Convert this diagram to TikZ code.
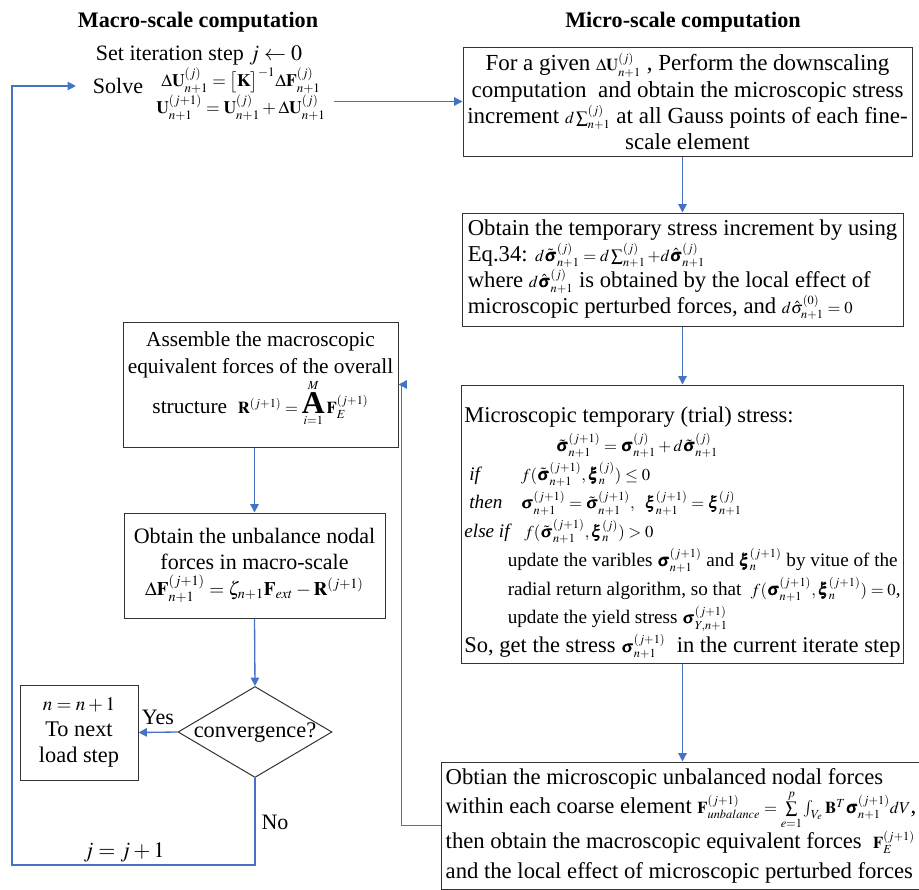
\documentclass[tikz,border=0pt]{standalone}
\usepackage{amsmath}
\usepackage{mathptmx}
\usepackage{bm}
\usepackage{fontspec}
\setmainfont{Liberation Serif}
\usetikzlibrary{shapes.geometric,arrows.meta}
\definecolor{flowblue}{HTML}{4472C4}
\newcommand{\eqsm}[1]{{\fontsize{10}{12}\selectfont$#1$}}
\begin{document}
\begin{tikzpicture}[x=0.6pt, y=-0.6pt,
	box/.style={draw=black!80, line width=0.6pt, text=black, shape=rectangle, inner sep=1.5pt, font=\fontsize{13.4}{15.6}\selectfont},
	lbl/.style={text=black, inner sep=1pt, font=\fontsize{13.2}{15}\selectfont},
	flow/.style={draw=flowblue, line width=0.8pt, -{Triangle[length=5pt,width=5pt]}}]

	\useasboundingbox (0,0) rectangle (919,890);

	% headings
	\node[lbl, font=\fontsize{13.3}{15}\selectfont\bfseries] (h_macro) at (198,22) {Macro-scale computation};
	\node[lbl, font=\fontsize{13.3}{15}\selectfont\bfseries] (h_micro) at (683,22) {Micro-scale computation};

	% macro-scale start
	\node[lbl] (m_init) at (199,55) {Set iteration step $j\leftarrow 0$};
	\node[lbl] (m_solve) at (118,86) {Solve};
	\node[lbl, align=center, font=\fontsize{10.5}{11}\selectfont] (m_eq) at (241,94) {$\Delta\mathbf{U}^{(j)}_{n+1} = \bigl[\mathbf{K}\bigr]^{-1}\Delta\mathbf{F}^{(j)}_{n+1}$\\$\mathbf{U}^{(j+1)}_{n+1} = \mathbf{U}^{(j)}_{n+1} + \Delta\mathbf{U}^{(j)}_{n+1}$};

	% micro-scale boxes
	\node[box, align=center, font=\fontsize{13.8}{15.8}\selectfont, minimum width=269.4pt, minimum height=65.4pt] (mic_1) at (687.5,101.5) {For a given \eqsm{\Delta\mathbf{U}^{(j)}_{n+1}} , Perform the downscaling\\computation\ \ and obtain the microscopic stress\\increment \eqsm{d\sum\nolimits^{(j)}_{n+1}} at all Gauss points of each fine-\\scale element};
	\node[box, align=left, font=\fontsize{13.6}{15.6}\selectfont, minimum width=264.6pt, minimum height=67.8pt] (mic_2) at (682.5,269.5) {Obtain the temporary stress increment by using\\Eq.34: \eqsm{d\tilde{\bm\sigma}^{(j)}_{n+1} = d\sum\nolimits^{(j)}_{n+1} + d\hat{\bm\sigma}^{(j)}_{n+1}}\\where \eqsm{d\hat{\bm\sigma}^{(j)}_{n+1}} is obtained by the local effect of\\microscopic perturbed forces, and \eqsm{d\hat{\sigma}^{(0)}_{n+1} = 0}};
	\node[box, align=left, font=\fontsize{11.5}{17.25}\selectfont, minimum width=264.6pt, minimum height=166.8pt] (mic_3) at (682.5,524) {%
		\rule{0pt}{20pt}{\fontsize{13.5}{17.25}\selectfont Microscopic temporary (trial) stress:}\\
		\hspace*{55pt}\eqsm{\tilde{\bm\sigma}^{(j+1)}_{n+1} = \bm\sigma^{(j)}_{n+1} + d\tilde{\bm\sigma}^{(j)}_{n+1}}\\
		\hspace*{3pt}\makebox[31pt][l]{\textit{if}}\eqsm{f(\tilde{\bm\sigma}^{(j+1)}_{n+1},\bm\xi^{(j)}_{n})\le 0}\\
		\hspace*{3pt}\makebox[31pt][l]{\textit{then}}\eqsm{\bm\sigma^{(j+1)}_{n+1} = \tilde{\bm\sigma}^{(j+1)}_{n+1},\ \ \bm\xi^{(j+1)}_{n+1} = \bm\xi^{(j)}_{n+1}}\\
		\makebox[36pt][l]{\textit{else if}}\eqsm{f(\tilde{\bm\sigma}^{(j+1)}_{n+1},\bm\xi^{(j)}_{n}) > 0}\\
		\hspace*{26pt}update the varibles \eqsm{\bm\sigma^{(j+1)}_{n+1}} and \eqsm{\bm\xi^{(j+1)}_{n}} by vitue of the\\
		\hspace*{26pt}radial return algorithm, so that\ \ \eqsm{f(\bm\sigma^{(j+1)}_{n+1},\bm\xi^{(j+1)}_{n}) = 0},\\
		\hspace*{26pt}update the yield stress \eqsm{\bm\sigma^{(j+1)}_{Y,n+1}}\\
		\makebox[258pt][l]{\fontsize{13.5}{17.25}\selectfont So, get the stress\ \eqsm{\bm\sigma^{(j+1)}_{n+1}}\ \ in the current iterate step}};
	\node[box, align=left, inner sep=2.4pt, font=\fontsize{13.6}{17.5}\selectfont, minimum width=284.4pt, minimum height=76.2pt] (mic_4) at (681,825.5) {Obtian the microscopic unbalanced nodal forces\\within each coarse element \eqsm{\mathbf{F}^{(j+1)}_{unbalance} = \sum\limits_{e=1}^{p}\int_{V_e}\mathbf{B}^{T}\bm\sigma^{(j+1)}_{n+1}dV},\\then obtain the macroscopic equivalent forces\ \ \eqsm{\mathbf{F}^{(j+1)}_{E}}\\and the local effect of microscopic perturbed forces};

	% macro-scale boxes
	\node[box, align=center, font=\fontsize{12.8}{16}\selectfont, minimum width=165pt, minimum height=75pt] (mac_1) at (260.5,384.5) {Assemble the macroscopic\\equivalent forces of the overall\\structure\ \ \eqsm{\mathbf{R}^{(j+1)} = \mathop{\text{\fontsize{19}{19}\selectfont\bfseries A}}\limits_{i=1}^{M}\mathbf{F}^{(j+1)}_{E}}\rule[-14pt]{0pt}{0pt}};
	\node[box, align=center, font=\fontsize{13.2}{15.6}\selectfont, minimum width=156.6pt, minimum height=63pt] (mac_2) at (254.5,565.5) {Obtain the unbalance nodal\\forces in macro-scale\\{\fontsize{11.5}{14}\selectfont$\Delta\mathbf{F}^{(j+1)}_{n+1} = \zeta_{n+1}\mathbf{F}_{ext} - \mathbf{R}^{(j+1)}$}};
	\node[box, shape=diamond, aspect=1.7, inner sep=0pt, text height=6pt, text depth=0pt, minimum width=92.4pt, minimum height=54.6pt] (p_conv) at (255,732) {convergence?};
	\node[box, align=center, minimum width=70.8pt, minimum height=57pt] (mac_next) at (79,732.5) {{\fontsize{11.5}{13}\selectfont$n = n+1$}\\To next\\load step};

	\coordinate (loop_c) at (12,865);

	% connectors
	\draw[flow, shorten <=4pt] (m_eq.east |- mic_1.west) -- (mic_1.west);
	\draw[flow] (mic_2.north |- mic_1.south) -- (mic_2.north);
	\draw[flow] (mic_2.south) -- (mic_3.north);
	\draw[flow] (mic_3.south) -- (mic_3.south |- mic_4.north);
	\draw[flow] (mic_4.west) -- ++(-40,0) |- (mac_1.east);
	\draw[flow] (mac_2.north |- mac_1.south) -- (mac_2.north);
	\draw[flow] (mac_2.south) -- (p_conv.north);
	\draw[flow] (p_conv.west) -- (mac_next.east) node[lbl, midway, above=3pt] (l_yes) {Yes};
	\draw[flow, shorten >=9pt] (p_conv.south) |- (loop_c) |- (m_solve.west);

	\node[lbl] (l_no) at (275,822) {No};
	\node[lbl] (l_next) at (124,852) {$j = j+1$};
\end{tikzpicture}
\end{document}
